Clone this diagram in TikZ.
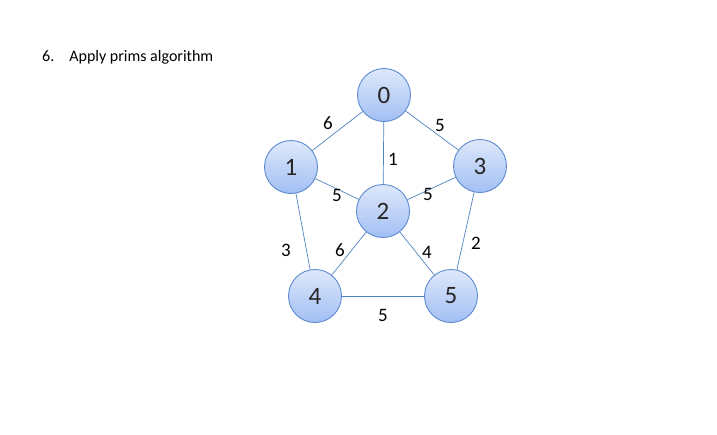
\documentclass[tikz,border=0pt]{standalone}
\usepackage{fontspec}
\setmainfont{Carlito}
\usepackage{tikz}

\definecolor{vtxtop}{HTML}{DEE8FA}
\definecolor{vtxbot}{HTML}{A2BFF4}
\definecolor{vtxline}{HTML}{5B8AD0}
\definecolor{edgeline}{HTML}{4F82C0}

\tikzset{
  vtx/.style={circle,draw=vtxline,line width=0.9pt,minimum size=53pt,inner sep=0pt,
    top color=vtxtop,bottom color=vtxbot,text=black!85,font=\fontsize{25}{27}\selectfont},
  wgt/.style={inner sep=0pt,font=\fontsize{19}{21}\selectfont},
  edg/.style={draw=edgeline,line width=0.7pt}
}

\begin{document}
\begin{tikzpicture}[x=1pt,y=-1pt]
\useasboundingbox (0,0) rectangle (717,434);
% heading:
\node[anchor=west,inner sep=0pt,font=\fontsize{16}{18}\selectfont] (title) at (42,57) {6.\hspace{15pt}Apply prims algorithm};
% vertices:
\node[vtx] (v0) at (384,95) {0};
\node[vtx] (v1) at (291,167) {1};
\node[vtx] (v3) at (480,166) {3};
\node[vtx] (v2) at (383,211) {2};
\node[vtx] (v4) at (315,296) {4};
\node[vtx] (v5) at (451,296) {5};
% edges:
\path[edg] (v0) -- (v1);
\path[edg] (v0) -- (v3);
\path[edg] (v0) -- (v2);
\path[edg] (v1) -- (v2);
\path[edg] (v2) -- (v3);
\path[edg] (v1) -- (v4);
\path[edg] (v2) -- (v4);
\path[edg] (v2) -- (v5);
\path[edg] (v3) -- (v5);
\path[edg] (v4) -- (v5);
% weights:
\node[wgt] (w01) at (328,123) {6};
\node[wgt] (w03) at (440,125) {5};
\node[wgt] (w02) at (393,159) {1};
\node[wgt] (w12) at (337,195) {5};
\node[wgt] (w23) at (428,194) {5};
\node[wgt] (w14) at (286,250) {3};
\node[wgt] (w24) at (340,250) {6};
\node[wgt] (w25) at (427,252) {4};
\node[wgt] (w35) at (476,243) {2};
\node[wgt] (w45) at (383,315) {5};
\end{tikzpicture}
\end{document}
